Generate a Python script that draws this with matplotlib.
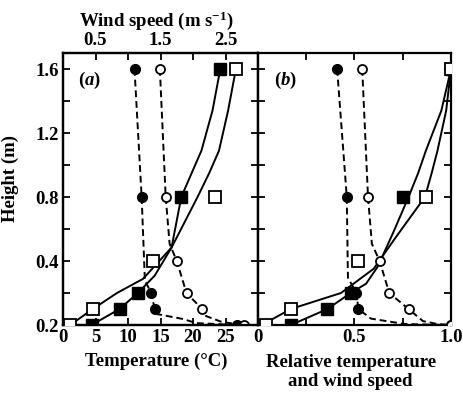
import numpy as np
import matplotlib.pyplot as plt
from matplotlib.ticker import FixedLocator, NullFormatter

plt.rcParams['font.family'] = 'Liberation Serif'
plt.rcParams['font.weight'] = 'bold'
plt.rcParams['axes.labelweight'] = 'bold'
plt.rcParams['font.size'] = 13.5
plt.rcParams['mathtext.fontset'] = 'custom'
plt.rcParams['mathtext.rm'] = 'Liberation Serif:bold'
plt.rcParams['mathtext.it'] = 'Liberation Serif:italic:bold'

# ---- (a) measured profiles ----
# temperature (deg C), filled and open circles
temp_filled_z = [1.6, 0.8, 0.3, 0.25, 0.2]
temp_filled = [11.0, 12.1, 13.6, 14.1, 26.8]
temp_open_z = [1.6, 0.8, 0.4, 0.3, 0.25, 0.2]
temp_open = [14.9, 15.8, 17.5, 19.0, 21.4, 27.9]

# wind speed (m/s), filled and open squares
wind_filled_z = [1.6, 0.8, 0.3, 0.25, 0.2]
wind_filled = [2.42, 1.82, 1.15, 0.87, 0.44]
wind_open_z = [1.6, 0.8, 0.4, 0.25, 0.2]
wind_open = [2.66, 2.34, 1.38, 0.46, 0.11]

# dashed temperature traces
temp_filled_line = [11.0, 12.1, 12.6, 13.6, 14.1, 14.5, 18.4, 20.5, 26.8]
temp_filled_line_z = [1.6, 0.8, 0.338, 0.3, 0.25, 0.234, 0.219, 0.206, 0.2]
temp_open_line = [14.9, 15.8, 16.4, 17.5, 19.0, 21.4, 22.0, 24.5, 27.9]
temp_open_line_z = [1.6, 0.8, 0.508, 0.4, 0.3, 0.25, 0.228, 0.209, 0.2]

# solid wind profile curves
wind_filled_fit = [0.14, 0.44, 0.87, 1.15, 1.41, 1.67, 1.82, 1.98, 2.13, 2.30, 2.42]
wind_filled_fit_z = [0.2, 0.2, 0.25, 0.3, 0.354, 0.484, 0.8, 0.95, 1.09, 1.34, 1.6]
wind_open_fit = [0.11, 0.46, 0.83, 1.23, 1.67, 2.07, 2.25, 2.40, 2.54, 2.66]
wind_open_fit_z = [0.2, 0.25, 0.3, 0.344, 0.484, 0.8, 0.95, 1.09, 1.34, 1.6]

# ---- (b) relative profiles ----
rel_temp_filled = [0.41, 0.46, 0.51, 0.52, 1.0]
rel_temp_open = [0.54, 0.57, 0.63, 0.68, 0.78, 1.0]
rel_wind_filled = [1.0, 0.75, 0.48, 0.36, 0.17]
rel_wind_open = [1.0, 0.87, 0.52, 0.17, 0.04]

rel_temp_filled_line = [0.41, 0.46, 0.466, 0.51, 0.52, 0.585, 0.76, 1.0]
rel_temp_filled_line_z = [1.6, 0.8, 0.348, 0.3, 0.25, 0.22, 0.203, 0.2]
rel_temp_open_line = [0.54, 0.57, 0.59, 0.63, 0.68, 0.78, 0.855, 0.93, 1.0]
rel_temp_open_line_z = [1.6, 0.8, 0.508, 0.4, 0.3, 0.25, 0.212, 0.203, 0.2]

rel_wind_filled_fit = [0.03, 0.17, 0.36, 0.48, 0.56, 0.62, 0.70, 0.78, 0.83, 0.87, 0.95, 1.0]
rel_wind_filled_fit_z = [0.2, 0.2, 0.25, 0.3, 0.329, 0.382, 0.576, 0.8, 0.95, 1.09, 1.34, 1.6]
rel_wind_open_fit = [0.02, 0.17, 0.43, 0.60, 0.715, 0.865, 0.90, 0.93, 0.975, 1.0]
rel_wind_open_fit_z = [0.2, 0.25, 0.3, 0.376, 0.55, 0.8, 0.95, 1.09, 1.34, 1.6]

# height axis: equal spacing between the labelled heights
z_knots = [0.0, 0.2, 0.4, 0.8, 1.2, 1.6, 2.0, 10.0]
z_levels = [-1, 0, 1, 2, 3, 4, 5, 25]


def z_fwd(z):
    return np.interp(z, z_knots, z_levels)


def z_inv(v):
    return np.interp(v, z_levels, z_knots)


dash = (0, (3.5, 2))
lw = 1.4
ms_c = 7.0
ms_s = 8.5


def draw_temp(ax, x_f, z_f, lx_f, lz_f, x_o, z_o, lx_o, lz_o):
    ax.plot(lx_f, lz_f, color='k', lw=lw, ls=dash, zorder=2)
    ax.plot(lx_o, lz_o, color='k', lw=lw, ls=dash, zorder=2)
    ax.plot(x_f, z_f, 'o', ms=ms_c, mfc='k', mec='k', zorder=4)
    ax.plot(x_o, z_o, 'o', ms=ms_c - 0.5, mfc='white', mec='k', mew=1.3, zorder=4)


def draw_wind(ax, x_f, z_f, fx_f, fz_f, x_o, z_o, fx_o, fz_o):
    ax.plot(fx_f, fz_f, color='k', lw=lw, zorder=2)
    ax.plot(fx_o, fz_o, color='k', lw=lw, zorder=2)
    ax.plot(x_f, z_f, 's', ms=ms_s, mfc='k', mec='k', zorder=4)
    ax.plot(x_o, z_o, 's', ms=ms_s - 0.5, mfc='white', mec='k', mew=1.3, zorder=4)


def style(ax):
    for sp in ax.spines.values():
        sp.set_linewidth(1.6)
    ax.tick_params(which='both', direction='in', length=5, width=1.3,
                   pad=3, labelsize=13.5)


fig = plt.figure(figsize=(4.64, 3.96), dpi=100)
ax_a = fig.add_axes([63 / 464, 71 / 396, 195 / 464, 272 / 396])
ax_b = fig.add_axes([258 / 464, 71 / 396, 193 / 464, 272 / 396], sharey=ax_a)

ax_a.set_yscale('function', functions=(z_fwd, z_inv))
ax_a.set_ylim(0.2, 1.7)

# panel (a): temperature on the bottom axis, wind speed on the top axis
ax_w = ax_a.twiny()
draw_temp(ax_a, temp_filled, temp_filled_z, temp_filled_line, temp_filled_line_z,
          temp_open, temp_open_z, temp_open_line, temp_open_line_z)
draw_wind(ax_w, wind_filled, wind_filled_z, wind_filled_fit, wind_filled_fit_z,
          wind_open, wind_open_z, wind_open_fit, wind_open_fit_z)

ax_a.set_xlim(0, 30)
ax_a.set_xticks([0, 5, 10, 15, 20, 25])
ax_w.set_xlim(0, 3)
ax_w.xaxis.set_major_locator(FixedLocator([0.5, 1.5, 2.5]))
ax_w.xaxis.set_minor_locator(FixedLocator([1.0, 2.0]))

for ax in (ax_a, ax_w, ax_b):
    style(ax)

ax_a.yaxis.set_major_locator(FixedLocator([0.2, 0.4, 0.8, 1.2, 1.6]))
ax_a.yaxis.set_minor_locator(FixedLocator([0.3, 0.6, 1.0, 1.4]))
ax_a.yaxis.set_major_formatter(plt.FuncFormatter(lambda v, p: f'{v:.1f}'))
ax_a.yaxis.set_minor_formatter(NullFormatter())
ax_a.tick_params(which='both', right=True, top=False)
ax_w.tick_params(which='both', bottom=False, top=True)

ax_a.set_xlabel('Temperature (°C)')
ax_a.xaxis.set_label_coords(0.48, -0.1)
ax_w.set_xlabel(r'Wind speed (m s$^{\mathregular{-1}}$)', labelpad=2)
ax_w.xaxis.set_label_coords(0.48, 1.1)
ax_a.set_ylabel('Height (m)')
ax_a.yaxis.set_label_coords(-0.225, 0.54)
ax_a.text(0.135, 0.9, r'($\it{a}$)', transform=ax_a.transAxes,
          ha='center', va='center')

# panel (b): values scaled by their near-ground / top value
draw_temp(ax_b, rel_temp_filled, temp_filled_z, rel_temp_filled_line, rel_temp_filled_line_z,
          rel_temp_open, temp_open_z, rel_temp_open_line, rel_temp_open_line_z)
draw_wind(ax_b, rel_wind_filled, wind_filled_z, rel_wind_filled_fit, rel_wind_filled_fit_z,
          rel_wind_open, wind_open_z, rel_wind_open_fit, rel_wind_open_fit_z)
ax_b.set_xlim(0, 1.0)
ax_b.xaxis.set_major_locator(FixedLocator([0, 0.5, 1.0]))
ax_b.xaxis.set_minor_locator(FixedLocator([0.25, 0.75]))
ax_b.xaxis.set_major_formatter(plt.FuncFormatter(lambda v, p: '0' if v == 0 else f'{v:.1f}'))
ax_b.tick_params(which='both', right=True, top=True, labelleft=False)
ax_b.set_xlabel('Relative temperature\nand wind speed', linespacing=1.15)
ax_b.xaxis.set_label_coords(0.48, -0.105)
ax_b.text(0.14, 0.9, r'($\it{b}$)', transform=ax_b.transAxes,
          ha='center', va='center')

fig.savefig('out.png', dpi=100)
